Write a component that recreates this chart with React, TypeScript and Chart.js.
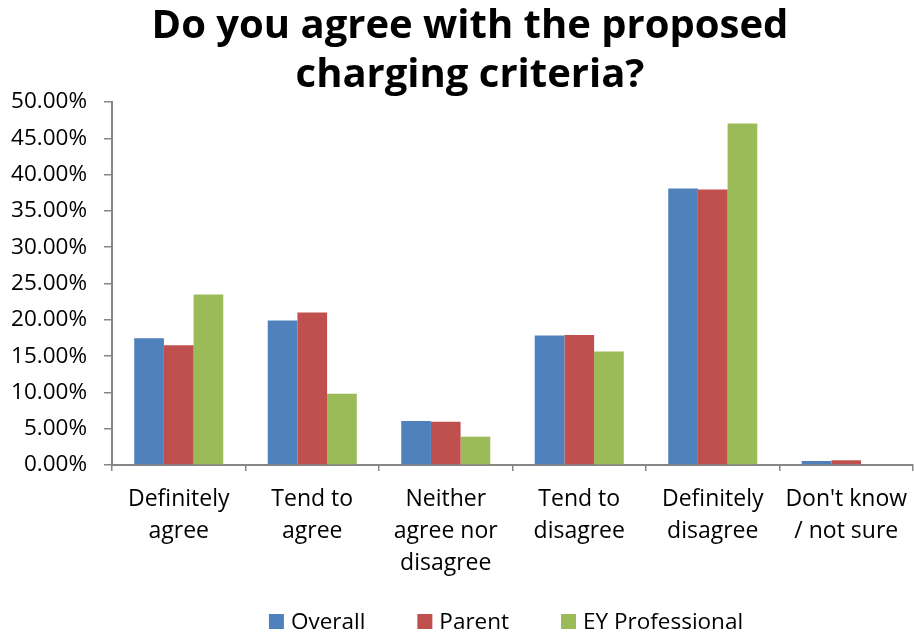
import React, { useEffect, useRef } from "react";
import { Chart, registerables } from "chart.js";

Chart.register(...registerables);

const TITLE_LINES = ["Do you agree with the proposed", "charging criteria?"];
const CATEGORIES: string[][] = [
  ["Definitely", "agree"],
  ["Tend to", "agree"],
  ["Neither", "agree nor", "disagree"],
  ["Tend to", "disagree"],
  ["Definitely", "disagree"],
  ["Don't know", "/ not sure"],
];
const SERIES_NAMES = ["Overall", "Parent", "EY Professional"];
const OVERALL = [17.45, 19.9, 6.05, 17.85, 38.1, 0.55];
const PARENT = [16.5, 21.0, 5.97, 17.9, 37.95, 0.65];
const EY_PROFESSIONAL = [23.5, 9.8, 3.9, 15.65, 47.05, 0];
const COLORS = ["#4F81BD", "#C0504D", "#9BBB59"];
const Y_MIN = 0;
const Y_MAX = 50;
const Y_STEP = 5;

const FONT = "'Open Sans', 'Liberation Sans', sans-serif";

const titlePlugin = {
  id: "customTitle",
  afterDraw(chart: any) {
    const ctx = chart.ctx;
    ctx.save();
    ctx.fillStyle = "#000";
    ctx.font = `bold 40px ${FONT}`;
    ctx.textAlign = "center";
    ctx.textBaseline = "alphabetic";
    ctx.fillText(TITLE_LINES[0], 470, 38);
    ctx.fillText(TITLE_LINES[1], 470, 87);
    ctx.restore();
  },
};

const legendPlugin = {
  id: "customLegend",
  afterDraw(chart: any) {
    const ctx = chart.ctx;
    ctx.save();
    ctx.font = `22.5px ${FONT}`;
    ctx.textBaseline = "alphabetic";
    ctx.textAlign = "left";
    const box = 15;
    const gapBoxText = 7;
    const gapItems = 52;
    const items = chart.data.datasets.map((d: any) => ({
      label: d.label,
      color: d.backgroundColor,
      w: ctx.measureText(d.label).width,
    }));
    let total = 0;
    items.forEach((it: any, i: number) => {
      total += box + gapBoxText + it.w + (i < items.length - 1 ? gapItems : 0);
    });
    let x = 506 - total / 2;
    items.forEach((it: any) => {
      ctx.fillStyle = it.color;
      ctx.fillRect(x, 614, box, box);
      ctx.fillStyle = "#000";
      ctx.fillText(it.label, x + box + gapBoxText, 629);
      x += box + gapBoxText + it.w + gapItems;
    });
    ctx.restore();
  },
};

export default function App() {
  const ref = useRef<HTMLCanvasElement>(null);
  useEffect(() => {
    document.body.style.margin = "0";
    const canvas = ref.current!;
    const chart = new Chart(canvas, {
      type: "bar",
      data: {
        labels: CATEGORIES,
        datasets: [
          { label: SERIES_NAMES[0], data: OVERALL, backgroundColor: COLORS[0] },
          { label: SERIES_NAMES[1], data: PARENT, backgroundColor: COLORS[1] },
          { label: SERIES_NAMES[2], data: EY_PROFESSIONAL, backgroundColor: COLORS[2] },
        ],
      },
      options: {
        responsive: false,
        animation: false,
        layout: { padding: { top: 102, left: 0, right: 1, bottom: 0 } },
        datasets: {
          bar: { categoryPercentage: 0.667, barPercentage: 1.0 },
        },
        plugins: {
          legend: { display: false },
          title: { display: false },
          tooltip: { enabled: false },
        },
        scales: {
          x: {
            grid: {
              offset: true,
              drawOnChartArea: false,
              drawTicks: true,
              tickLength: 6,
              color: "#868686",
              lineWidth: 1.5,
            },
            border: { color: "#868686", width: 2 },
            ticks: {
              color: "#000",
              padding: 12,
              maxRotation: 0,
              autoSkip: false,
              font: { family: FONT, size: 23, lineHeight: 1.4 },
            },
            afterFit: (s: any) => {
              s.height = 168;
              s.paddingRight = 0;
              s.paddingLeft = 0;
            },
          },
          y: {
            min: Y_MIN,
            max: Y_MAX,
            grid: {
              drawOnChartArea: false,
              drawTicks: true,
              tickLength: 8,
              color: "#868686",
              lineWidth: 1.5,
            },
            border: { color: "#868686", width: 2 },
            ticks: {
              stepSize: Y_STEP,
              color: "#000",
              padding: 17,
              font: { family: FONT, size: 22.5 },
              callback: (v: any) => Number(v).toFixed(2) + "%",
            },
            afterFit: (s: any) => {
              s.width = 112;
            },
          },
        },
      },
      plugins: [titlePlugin, legendPlugin],
    });
    return () => chart.destroy();
  }, []);
  return (
    <div style={{ width: 914, height: 633 }}>
      <canvas ref={ref} width={914} height={633} style={{ display: "block" }} />
    </div>
  );
}
